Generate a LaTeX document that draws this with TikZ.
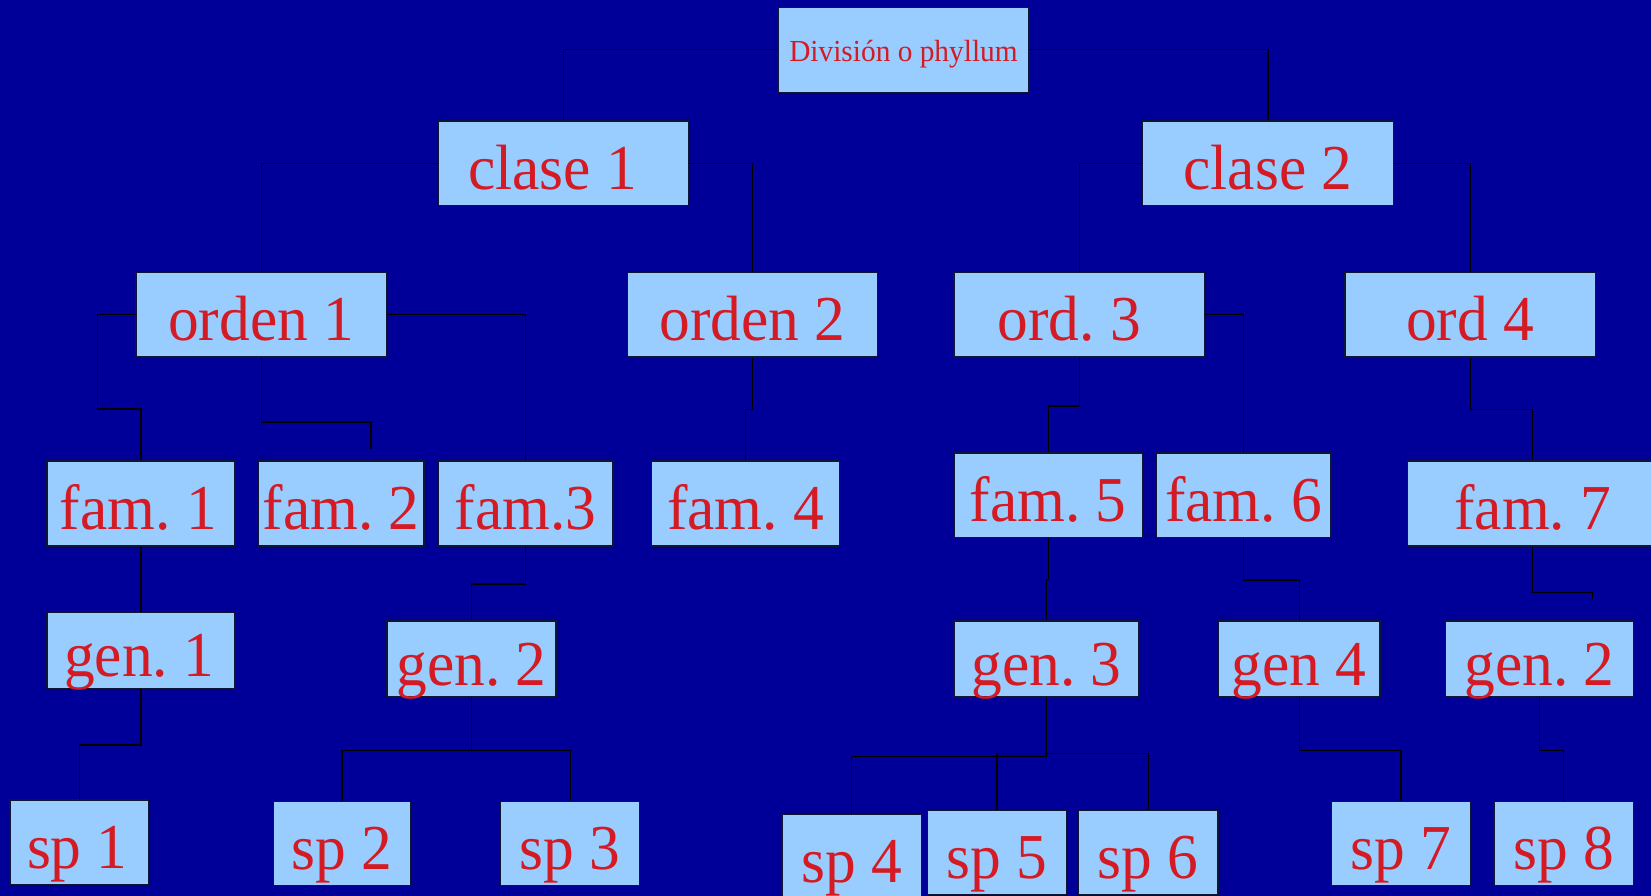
\documentclass[tikz,border=0pt]{standalone}
\usepackage{fontspec}
\setmainfont{Liberation Serif}[FakeStretch=0.96]
\frenchspacing
\definecolor{bgnavy}{RGB}{0,0,153}
\definecolor{boxfill}{RGB}{153,204,255}
\definecolor{boxline}{RGB}{16,22,50}
\definecolor{txtred}{RGB}{212,26,34}
\begin{document}
\begin{tikzpicture}[x=1pt,y=-1pt,
  box/.style={draw=boxline, fill=boxfill, line width=1.3pt, inner sep=0pt,
              text=txtred, text height=52pt, text depth=0pt,
              font=\fontsize{64}{64}\selectfont},
  smallbox/.style={box, text height=24.6pt, font=\fontsize{30.6}{30.6}\selectfont},
  wide/.style={minimum width=250.5pt, minimum height=84.7pt},
  link/.style={draw=black, line width=1.3pt}]
\useasboundingbox (0,0) rectangle (1651,896);
\clip (0,0) rectangle (1651,896);
\fill[bgnavy] (0,0) rectangle (1651,896);

% root and classes
\node[smallbox, minimum width=251pt, minimum height=85pt] (div) at (903.5,49.7) {División o phyllum};
\node[box, wide] (c1) at (563.5,163.3) {\kern-10.8pt clase 1\kern10.8pt};
\node[box, wide] (c2) at (1268,163.5) {clase 2};

% orders
\node[box, wide] (o1) at (261.25,314.5) {orden 1};
\node[box, wide] (o2) at (752.5,314.5) {orden 2};
\node[box, wide] (o3) at (1079.2,314.5) {\kern-9.9pt ord. 3\kern9.9pt};
\node[box, wide] (o4) at (1470.2,314.5) {ord 4};

% families
\node[box, minimum width=188pt, minimum height=85pt] (f1) at (141,503.5) {\kern-2.6pt fam. 1\kern2.6pt};
\node[box, minimum width=165.7pt, minimum height=85pt] (f2) at (341.2,503.5) {fam. 2};
\node[box, minimum width=174.7pt, minimum height=85pt] (f3) at (525.65,503.5) {fam.3};
\node[box, minimum width=187.5pt, minimum height=85pt] (f4) at (745.5,503.5) {fam. 4};
\node[box, minimum width=188pt, minimum height=84.7pt] (f5) at (1048.2,495.3) {fam. 5};
\node[box, minimum width=174.4pt, minimum height=84.7pt] (f6) at (1243.7,495.3) {fam. 6};
\node[box, minimum width=251pt, minimum height=85pt] (f7) at (1532.8,503.5) {fam. 7};

% genera
\node[box, minimum width=188pt, minimum height=76.4pt] (g1) at (141,650.5) {\kern-1.8pt gen. 1\kern1.8pt};
\node[box, minimum width=169pt, minimum height=76pt] (g2) at (471.4,659) {gen. 2};
\node[box, minimum width=185pt, minimum height=76pt] (g3) at (1046.55,659) {gen. 3};
\node[box, minimum width=161.6pt, minimum height=76pt] (g4) at (1299.3,659) {gen 4};
\node[box, minimum width=188pt, minimum height=76pt] (g2r) at (1539.4,659) {gen. 2};

% species
\node[box, minimum width=138.8pt, minimum height=84.3pt] (s1) at (79.4,842.2) {\kern-2pt sp 1\kern2pt};
\node[box, minimum width=136.6pt, minimum height=84.4pt] (s2) at (342,843.5) {sp 2};
\node[box, minimum width=138.7pt, minimum height=84.4pt] (s3) at (570.15,843.5) {sp 3};
\node[box, minimum width=139.3pt, minimum height=84.4pt] (s4) at (851.55,856.5) {sp 4};
\node[box, minimum width=138.8pt, minimum height=84.4pt] (s5) at (997,852.5) {sp 5};
\node[box, minimum width=139.4pt, minimum height=84.4pt] (s6) at (1148.3,852.5) {sp 6};
\node[box, minimum width=139.4pt, minimum height=84.4pt] (s7) at (1401.1,843.5) {sp 7};
\node[box, minimum width=139.4pt, minimum height=84.4pt] (s8) at (1563.8,843.5) {sp 8};

% loose ends of two branches
\coordinate (o1stub) at (371,448.7);
\coordinate (f7stub) at (1592.7,599.3);

% connectors
\draw[link] (div.west) -| (c1.north);
\draw[link] (div.east) -| (c2.north);
\draw[link] (c1.west) -| (o1.north);
\draw[link] (c1.east) -| (o2.north);
\draw[link] (c2.west) -| (o3.north);
\draw[link] (c2.east) -| (o4.north);

\draw[link] (o1.west) -| ++(-38,94.5) -| (f1.north);
\draw[link] (o1.south) |- (o1stub |- 0,422) -- (o1stub);
\draw[link] (o1.east) -| (f3.north);
\draw[link] (o2.south) -- ++(0,52) -| (f4.north);
\draw[link] (o3.south) -- ++(0,48.6) -| (f5.north);
\draw[link] (o3.east) -| (f6.north);
\draw[link] (o4.south) -- ++(0,52) -| (f7.north);

\draw[link] (f1.south) -- (g1.north);
\draw[link] (f3.south) -- ++(0,37.3) -| (g2.north);
\draw[link] (f5.south) -- ++(0,41.5) -| (g3.north);
\draw[link] (f6.south) -- ++(0,41.6) -| (g4.north);
\draw[link] (f7.south) -- ++(0,46) -| (f7stub);

\draw[link] (g1.south) -- ++(0,55.6) -| (s1.north);
\draw[link] (g2.south) -- ++(0,52.7) coordinate (g2j) -| (s2.north);
\draw[link] (g2j) -| (s3.north);
\draw[link] (g3.south) -- ++(0,58.7) -| (s4.north);
\draw[link] (s5.north) -- ++(0,-56) -| (s6.north);
\draw[link] (g4.south) -- ++(0,52.7) -| (s7.north);
\draw[link] (g2r.south) -- ++(0,52.7) -| (s8.north);
\end{tikzpicture}
\end{document}
